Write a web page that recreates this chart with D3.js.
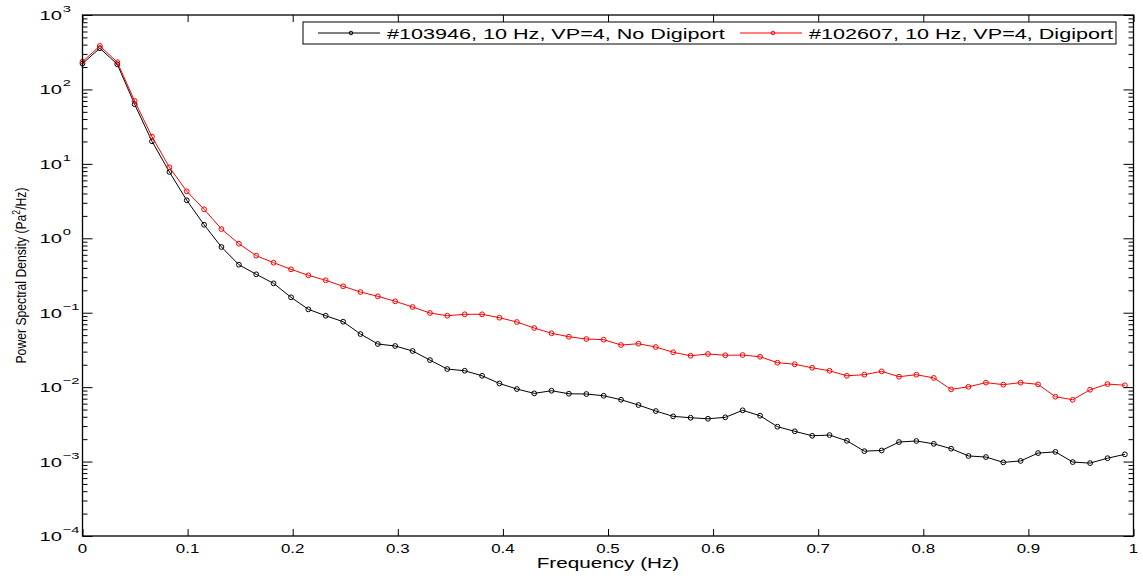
<!DOCTYPE html>
<html>
<head>
<meta charset="utf-8">
<script src="https://cdn.jsdelivr.net/npm/d3@7"></script>
<style>
  body { margin: 0; background: #fff; }
  svg text { font-family: "Liberation Sans", Arial, Helvetica, sans-serif; fill: #000; }
</style>
</head>
<body>
<div id="chart"></div>
<script>
var width = 1143,
	height = 576;

var freq = [0, 0.0165, 0.0331, 0.0496, 0.0661, 0.0827, 0.0992, 0.1157, 0.1322, 0.1488,
	0.1653, 0.1818, 0.1984, 0.2149, 0.2314, 0.2480, 0.2645, 0.2810, 0.2975, 0.3141,
	0.3306, 0.3471, 0.3637, 0.3802, 0.3967, 0.4133, 0.4298, 0.4463, 0.4628, 0.4794,
	0.4959, 0.5124, 0.5290, 0.5455, 0.5620, 0.5786, 0.5951, 0.6116, 0.6281, 0.6447,
	0.6612, 0.6777, 0.6943, 0.7108, 0.7273, 0.7439, 0.7604, 0.7769, 0.7934, 0.8100,
	0.8265, 0.8430, 0.8596, 0.8761, 0.8926, 0.9092, 0.9257, 0.9422, 0.9587, 0.9753,
	0.9918];

// #103946, no digiport
var psdNoDigiport = [222, 358, 218, 63.2, 20.1, 7.78, 3.24, 1.52, 0.764, 0.442,
	0.328, 0.248, 0.161, 0.111, 0.0911, 0.0757, 0.0517, 0.0380, 0.0357, 0.0306,
	0.0231, 0.0175, 0.0166, 0.0142, 0.0112, 0.00943, 0.00825, 0.00895, 0.00815, 0.00808,
	0.00766, 0.00677, 0.00575, 0.00477, 0.00405, 0.00388, 0.00376, 0.00393, 0.00488, 0.00413,
	0.00294, 0.00255, 0.00222, 0.00227, 0.00190, 0.00138, 0.00141, 0.00183, 0.00189, 0.00173,
	0.00149, 0.00119, 0.00115, 0.000976, 0.00102, 0.00130, 0.00135, 0.000985, 0.000954, 0.00111,
	0.00125];

// #102607, digiport
var psdDigiport = [236, 384, 232, 70, 23.2, 9.0, 4.28, 2.45, 1.33, 0.846,
	0.584, 0.470, 0.383, 0.318, 0.2726, 0.2264, 0.1898, 0.1661, 0.1423, 0.1193,
	0.0991, 0.0911, 0.0952, 0.0952, 0.0857, 0.0750, 0.0623, 0.0529, 0.0476, 0.0443,
	0.0434, 0.0368, 0.0383, 0.0346, 0.0294, 0.0264, 0.0279, 0.0268, 0.0270, 0.0256,
	0.0213, 0.0203, 0.0182, 0.0166, 0.0142, 0.0147, 0.0163, 0.0138, 0.0147, 0.0133,
	0.00934, 0.0101, 0.0115, 0.0108, 0.0115, 0.0109, 0.00743, 0.00677, 0.00923, 0.0110,
	0.0106];

var seriesNames = ['#103946, 10 Hz, VP=4, No Digiport', '#102607, 10 Hz, VP=4, Digiport'];
var seriesColors = ['#000000', '#ff0000'];
var xTicks = [0, 0.1, 0.2, 0.3, 0.4, 0.5, 0.6, 0.7, 0.8, 0.9, 1];
var yExponents = [-4, -3, -2, -1, 0, 1, 2, 3];

var plotLeft = 82.5, plotRight = 1133.5, plotTop = 15, plotBottom = 536;

var svg = d3.select('#chart').append('svg')
	.attr('width', width)
	.attr('height', height);

var x = d3.scaleLinear().domain([0, 1]).range([plotLeft, plotRight]);
var y = d3.scaleLog().domain([1e-4, 1e3]).range([plotBottom, plotTop]);

var majorY = yExponents.map(function(e){ return Math.pow(10, e); });
var minorY = [];
yExponents.slice(0, -1).forEach(function(e){
	for (var m = 2; m < 10; m++) minorY.push(m * Math.pow(10, e));
});

// series lines + markers
var line = d3.line()
	.x(function(d){ return x(d[0]); })
	.y(function(d){ return y(d[1]); });

[psdNoDigiport, psdDigiport].forEach(function(vals, i){
	var pts = freq.map(function(f, k){ return [f, vals[k]]; });
	svg.append('path')
		.datum(pts)
		.attr('d', line)
		.attr('fill', 'none')
		.attr('stroke', seriesColors[i])
		.attr('stroke-width', 1);
	svg.append('g').selectAll('circle')
		.data(pts)
		.enter().append('circle')
		.attr('cx', function(d){ return x(d[0]); })
		.attr('cy', function(d){ return y(d[1]); })
		.attr('r', 2.4)
		.attr('fill', 'none')
		.attr('stroke', seriesColors[i])
		.attr('stroke-width', 1);
});

// axes, ticks pointing inward on all four sides
function noLabels(axis){ return axis.tickFormat(''); }

svg.append('g').attr('transform', 'translate(0,' + plotBottom + ')')
	.call(noLabels(d3.axisBottom(x).tickValues(xTicks).tickSizeInner(-7).tickSizeOuter(0)));
svg.append('g').attr('transform', 'translate(0,' + plotTop + ')')
	.call(noLabels(d3.axisTop(x).tickValues(xTicks).tickSizeInner(-7).tickSizeOuter(0)));
svg.append('g').attr('transform', 'translate(' + plotLeft + ',0)')
	.call(noLabels(d3.axisLeft(y).tickValues(majorY).tickSizeInner(-10).tickSizeOuter(0)));
svg.append('g').attr('transform', 'translate(' + plotLeft + ',0)')
	.call(noLabels(d3.axisLeft(y).tickValues(minorY).tickSizeInner(-5).tickSizeOuter(0)));
svg.append('g').attr('transform', 'translate(' + plotRight + ',0)')
	.call(noLabels(d3.axisRight(y).tickValues(majorY).tickSizeInner(-10).tickSizeOuter(0)));
svg.append('g').attr('transform', 'translate(' + plotRight + ',0)')
	.call(noLabels(d3.axisRight(y).tickValues(minorY).tickSizeInner(-5).tickSizeOuter(0)));

svg.selectAll('.domain').remove();
svg.selectAll('.tick line').attr('stroke', '#000').attr('stroke-width', 1);

svg.append('rect')
	.attr('x', plotLeft).attr('y', plotTop)
	.attr('width', plotRight - plotLeft).attr('height', plotBottom - plotTop)
	.attr('fill', 'none').attr('stroke', '#000').attr('stroke-width', 1.3);

// x tick labels
svg.append('g').selectAll('text')
	.data(xTicks)
	.enter().append('text')
	.attr('transform', function(d){ return 'translate(' + x(d) + ',553) scale(1.3,1)'; })
	.attr('text-anchor', 'middle')
	.style('font-size', '13px')
	.text(function(d){ return d3.format('~g')(d); });

// y tick labels 10^e
var yl = svg.append('g').selectAll('g')
	.data(yExponents)
	.enter().append('g')
	.attr('transform', function(e){ return 'translate(62,' + (y(Math.pow(10, e)) + 5) + ') scale(1.55,1)'; });
yl.append('text')
	.attr('text-anchor', 'end')
	.style('font-size', '13px')
	.text('10');
yl.append('text')
	.attr('x', 0.5)
	.attr('y', -8)
	.style('font-size', '9.5px')
	.text(function(e){ return e < 0 ? '\u2212' + (-e) : String(e); });

// axis titles
svg.append('text')
	.attr('transform', 'translate(' + ((plotLeft + plotRight) / 2) + ',568) scale(1.38,1)')
	.attr('text-anchor', 'middle')
	.style('font-size', '15px')
	.text('Frequency (Hz)');

var yt = svg.append('text')
	.attr('transform', 'translate(26,' + ((plotTop + plotBottom) / 2) + ') rotate(-90)')
	.attr('text-anchor', 'middle')
	.attr('textLength', 176)
	.attr('lengthAdjust', 'spacingAndGlyphs')
	.style('font-size', '15.5px');
yt.append('tspan').text('Power Spectral Density (Pa');
yt.append('tspan').attr('dy', -6).style('font-size', '11px').text('2');
yt.append('tspan').attr('dy', 6).text('/Hz)');

// legend
var legend = svg.append('g');
legend.append('rect')
	.attr('x', 303).attr('y', 22)
	.attr('width', 813).attr('height', 22)
	.attr('fill', '#fff').attr('stroke', '#000').attr('stroke-width', 1);

var legendX = [318, 740];
seriesNames.forEach(function(name, i){
	var g = legend.append('g').attr('transform', 'translate(' + legendX[i] + ',33)');
	g.append('line')
		.attr('x1', 0).attr('x2', 62)
		.attr('stroke', seriesColors[i]).attr('stroke-width', 1);
	g.append('circle')
		.attr('cx', 33).attr('r', 1.8)
		.attr('fill', 'none').attr('stroke', seriesColors[i]).attr('stroke-width', 1);
	g.append('text')
		.attr('transform', 'translate(69,5.5) scale(1.44,1)')
		.style('font-size', '15px')
		.text(name);
});
</script>
</body>
</html>
